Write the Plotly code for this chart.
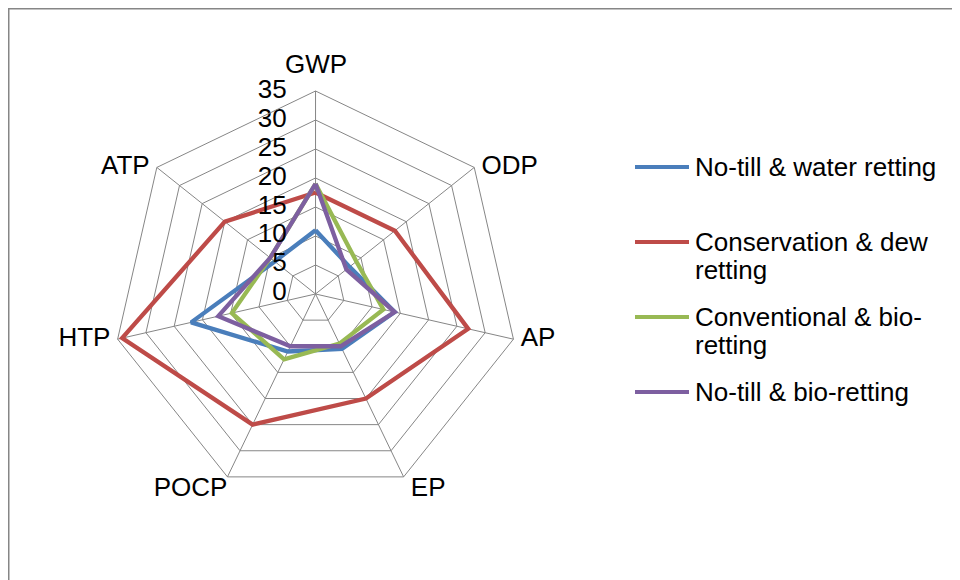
import plotly.graph_objects as go

# Impact categories (clockwise from top)
categories = ['GWP', 'ODP', 'AP', 'EP', 'POCP', 'HTP', 'ATP']

# Values
no_till_water = [11, 7.5, 14, 10.5, 11, 22, 9]
conservation_dew = [17.5, 17.5, 27, 20, 25, 34.2, 20]
conventional_bio = [19, 9, 12, 9.5, 12.5, 14.8, 10]
no_till_bio = [19, 6.8, 14, 10, 10, 17.2, 10]

radial_ticks = [0, 5, 10, 15, 20, 25, 30, 35]

series_lines = [['No-till & water retting'],
                ['Conservation & dew', 'retting'],
                ['Conventional & bio-', 'retting'],
                ['No-till & bio-retting']]
series_values = [no_till_water, conservation_dew, conventional_bio, no_till_bio]
colors = ['#4A7EBB', '#BE4B48', '#98B954', '#7D5FA0']

FONT = 'Liberation Sans, Arial, sans-serif'
FS = 26
W, H = 960, 580
NB = '\u00a0'
RMAX = 35

fig = go.Figure()
for lines, vals, col in zip(series_lines, series_values, colors):
    fig.add_trace(go.Scatterpolar(
        r=vals + vals[:1], theta=categories + categories[:1],
        mode='lines', name=' '.join(lines),
        line=dict(color=col, width=4.3), showlegend=False,
    ))

# radial tick labels, left of the GWP spoke
# (the 0 label is nudged off the pole, plotly skips points at r == 0)
fig.add_trace(go.Scatterpolar(
    r=[max(t, 0.01) for t in radial_ticks],
    theta=[categories[0]] * len(radial_ticks),
    mode='text', text=[str(t) + NB * 4 for t in radial_ticks],
    textposition='middle left', cliponaxis=False,
    textfont=dict(family=FONT, size=FS, color='black'),
    showlegend=False, hoverinfo='skip',
))

# category labels just outside the outer ring (GWP added as annotation)
cat_pos = ['middle right', 'middle right', 'bottom right',
           'bottom left', 'middle left', 'middle left']
cat_text = [NB + categories[1], NB + categories[2],
            NB + categories[3], categories[4], categories[5] + NB,
            categories[6] + NB]
fig.add_trace(go.Scatterpolar(
    r=[RMAX] * 6, theta=categories[1:],
    mode='text', text=cat_text, textposition=cat_pos, cliponaxis=False,
    textfont=dict(family=FONT, size=FS, color='black'),
    showlegend=False, hoverinfo='skip',
))

dom_x = [0.1089, 0.5318]
dom_y = [0.1569, 0.8569]

fig.update_layout(
    width=W, height=H,
    margin=dict(l=0, r=0, t=0, b=0),
    paper_bgcolor='white',
    font=dict(family=FONT, size=FS, color='black'),
    polar=dict(
        domain=dict(x=dom_x, y=dom_y),
        bgcolor='white',
        gridshape='linear',
        angularaxis=dict(direction='clockwise', rotation=90,
                         linecolor='#868686', linewidth=1,
                         gridcolor='#868686', gridwidth=1,
                         ticks='', showticklabels=False),
        radialaxis=dict(range=[0, RMAX], dtick=5, angle=90,
                        showticklabels=False,
                        showline=False, ticks='',
                        gridcolor='#868686', gridwidth=1),
    ),
    showlegend=False,
)

# top category label sits above the outer ring
fig.add_annotation(xref='paper', yref='paper',
                   x=(dom_x[0] + dom_x[1]) / 2, y=dom_y[1] + 0.018,
                   xanchor='center', yanchor='bottom',
                   text=categories[0], showarrow=False,
                   font=dict(family=FONT, size=FS, color='black'))

# legend drawn by hand (long line keys, Excel-like spacing)
first_line_y = [159, 234, 309, 384]
line_gap = 28
for lines, col, y0 in zip(series_lines, colors, first_line_y):
    fig.add_shape(type='line', xref='paper', yref='paper',
                  x0=627 / W, x1=681 / W, y0=1 - y0 / H, y1=1 - y0 / H,
                  line=dict(color=col, width=4))
    for i, txt in enumerate(lines):
        fig.add_annotation(xref='paper', yref='paper',
                           x=685 / W, y=1 - (y0 + i * line_gap) / H,
                           xanchor='left', yanchor='middle',
                           text=txt, showarrow=False,
                           font=dict(family=FONT, size=FS, color='black'))

# chart frame (top and left edges)
fig.add_shape(type='line', xref='paper', yref='paper',
              x0=0, x1=1, y0=1, y1=1,
              line=dict(color='#868686', width=3))
fig.add_shape(type='line', xref='paper', yref='paper',
              x0=0, x1=0, y0=0, y1=1,
              line=dict(color='#868686', width=3))

fig.write_html('out.html')
